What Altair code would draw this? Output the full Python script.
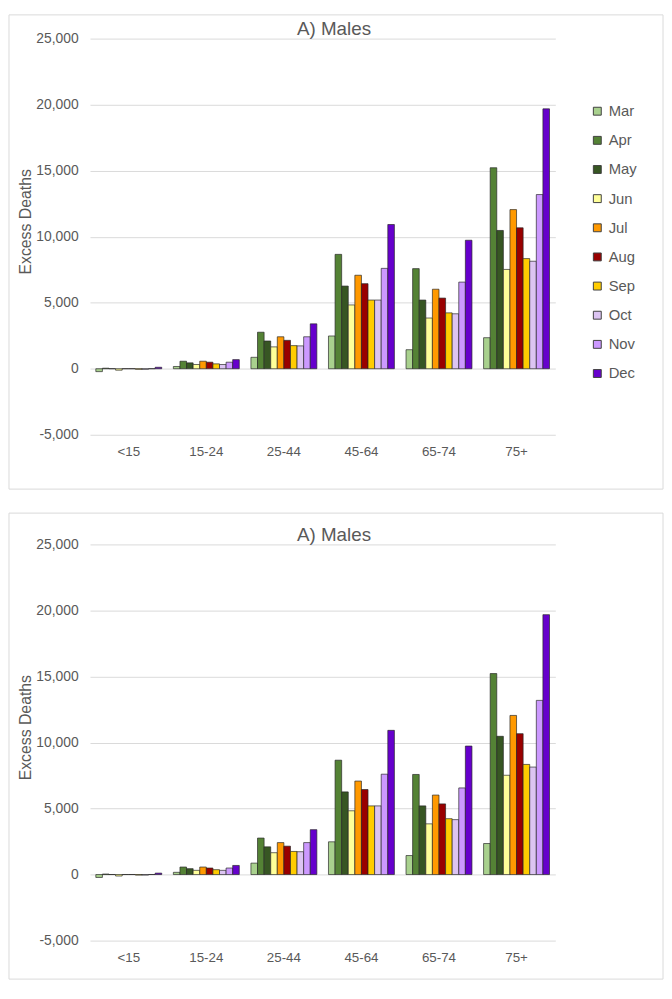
import altair as alt
import pandas as pd

ages = ["<15", "15-24", "25-44", "45-64", "65-74", "75+"]
months = ["Mar", "Apr", "May", "Jun", "Jul", "Aug", "Sep", "Oct", "Nov", "Dec"]
colors = ["#a9d18e", "#548235", "#375623", "#ffff99", "#ff9900",
          "#990000", "#ffcc00", "#dcc4f2", "#cc99ff", "#6600cc"]

# Excess deaths by month, one value per age group (same order as ages)
mar = [-220, 170, 865, 2480, 1440, 2350]
apr = [40, 570, 2765, 8660, 7580, 15220]
may = [5, 445, 2100, 6260, 5200, 10470]
jun = [-110, 320, 1655, 4830, 3840, 7520]
jul = [5, 570, 2420, 7080, 6020, 12050]
aug = [5, 495, 2150, 6440, 5350, 10670]
sep = [-40, 370, 1750, 5200, 4230, 8340]
oct_ = [-40, 320, 1730, 5200, 4160, 8140]
nov = [5, 495, 2420, 7600, 6560, 13190]
dec = [110, 690, 3400, 10920, 9730, 19680]

series = [mar, apr, may, jun, jul, aug, sep, oct_, nov, dec]
y_ticks = [-5000, 0, 5000, 10000, 15000, 20000, 25000]
title_text = "A) Males"

rows = []
for m, vals in zip(months, series):
    for a, v in zip(ages, vals):
        rows.append({"age": a, "month": m, "value": v})
df = pd.DataFrame(rows)

TXT = "#595959"
FONT = "Arial"


def panel(box_top, box_bottom):
    bars = alt.Chart(df).mark_bar(
        stroke="#262626", strokeWidth=0.8, strokeOpacity=0.85
    ).encode(
        x=alt.X(
            "age:N", sort=ages,
            scale=alt.Scale(paddingInner=0.15, paddingOuter=0.075),
            axis=alt.Axis(title=None, labelAngle=0, ticks=False, domain=False,
                          grid=False, labelPadding=10, labelFontSize=13.5,
                          labelColor=TXT, labelFont=FONT),
        ),
        xOffset=alt.XOffset("month:N", sort=months,
                            scale=alt.Scale(paddingInner=0, paddingOuter=0)),
        y=alt.Y(
            "value:Q",
            scale=alt.Scale(domain=[-5000, 25000], nice=False, zero=False),
            axis=alt.Axis(values=y_ticks, title="Excess Deaths",
                          labelExpr="(datum.value < 0 ? '-' : '') + format(abs(datum.value), ',.0f')",
                          ticks=False, domain=False, labelPadding=12,
                          labelFontSize=14, labelColor=TXT, labelFont=FONT,
                          titleFontSize=16, titleFontWeight="normal",
                          titleColor=TXT, titleFont=FONT,
                          titleX=-65, titleY=185, titleBaseline="middle",
                          titleAlign="center", titleAngle=270,
                          gridColor="#d9d9d9", gridWidth=1),
        ),
        color=alt.Color(
            "month:N", sort=months,
            scale=alt.Scale(domain=months, range=colors),
            legend=alt.Legend(title=None, orient="none", legendX=506,
                              legendY=66, symbolType="square", symbolSize=64,
                              symbolStrokeColor="#404040", symbolStrokeWidth=1,
                              labelFontSize=15, labelColor=TXT, labelFont=FONT,
                              labelOffset=4, rowPadding=13.5, padding=0),
        ),
    )
    box = alt.Chart(pd.DataFrame({"k": [0]})).mark_rect(
        fill="white", fillOpacity=0, stroke="#d9d9d9", strokeWidth=1
    ).encode(
        x=alt.value(-82), x2=alt.value(580),
        y=alt.value(box_top), y2=alt.value(box_bottom),
    )
    title = alt.Chart(pd.DataFrame({"t": [title_text]})).mark_text(
        align="center", baseline="alphabetic", fontSize=19, color=TXT,
        font=FONT
    ).encode(
        text="t:N", x=alt.value(247), y=alt.value(-3.7),
    )
    return alt.layer(box, bars, title).properties(width=471, height=401)


chart = alt.vconcat(panel(-24, 456), panel(-31.7, 440), spacing=22).properties(
    padding=0
).configure_view(stroke=None)

chart.save("out.html", embed_options={"renderer": "svg", "actions": False})
